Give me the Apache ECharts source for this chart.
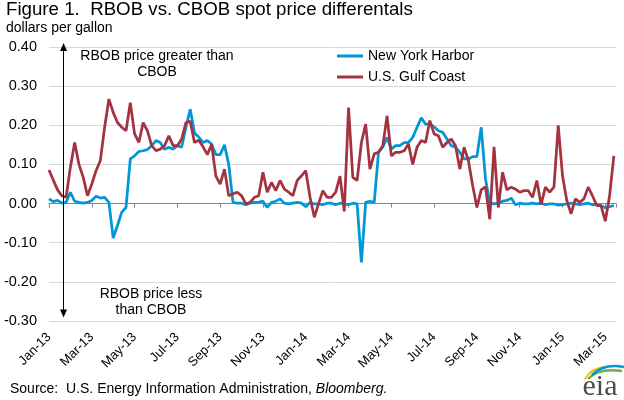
<!DOCTYPE html>
<html>
<head>
<meta charset="utf-8">
<script src="https://cdn.jsdelivr.net/npm/echarts@6/dist/echarts.min.js"></script>
<style>
    html, body { margin: 0; padding: 0; background: #fff; }
    #chart { width: 624px; height: 400px; }
</style>
</head>
<body>
<div id="chart"></div>
<script>
    // x positions: months since Jan 1 2013, one reading every 0.2 month
    var monthPos = [];
    for (var i = 0; i <= 132; i++) {
        monthPos.push(Math.round(i * 2) / 10);
    }

    // tick labels, every 2 months
    var monthLabels = ['Jan-13', 'Mar-13', 'May-13', 'Jul-13', 'Sep-13', 'Nov-13', 'Jan-14',
        'Mar-14', 'May-14', 'Jul-14', 'Sep-14', 'Nov-14', 'Jan-15', 'Mar-15'];

    // RBOB minus CBOB, dollars per gallon
    var nyHarbor = [
        0.012, 0.005, 0.008, 0.001, 0.003, 0.029, 0.006, 0.003, 0.001, 0.003,
        0.008, 0.019, 0.014, 0.016, 0.003, -0.088, -0.056, -0.022, -0.01, 0.114,
        0.122, 0.133, 0.135, 0.138, 0.148, 0.161, 0.156, 0.139, 0.144, 0.139,
        0.148, 0.144, 0.195, 0.241, 0.18, 0.17, 0.156, 0.161, 0.152, 0.125,
        0.125, 0.15, 0.10, 0.003, 0.001, 0.001, -0.003, 0.001, 0.003, 0.004,
        0.006, -0.01, 0.003, 0.006, 0.012, 0.001, -0.001, 0.001, 0.003, 0.001,
        -0.008, 0.003, -0.001, -0.001, -0.003, 0.001, 0.001, -0.003, 0.001, -0.001,
        -0.003, 0.001, -0.001, -0.15, 0.003, 0.006, 0.003, 0.131, 0.144, 0.169,
        0.139, 0.148, 0.148, 0.156, 0.156, 0.169, 0.195, 0.219, 0.203, 0.203,
        0.196, 0.186, 0.182, 0.165, 0.148, 0.144, 0.131, 0.114, 0.114, 0.12,
        0.12, 0.195, 0.063, 0.003, -0.001, 0.001, 0.006, 0.008, 0.014, -0.003,
        0.001, -0.001, -0.001, 0.001, -0.001, 0.001, -0.003, -0.001, -0.001, -0.004,
        -0.003, -0.001, 0.001, -0.001, -0.003, -0.001, 0.001, -0.003, -0.003, -0.005,
        -0.011, -0.008, -0.005
    ];

    var gulfCoast = [
        0.086, 0.06, 0.035, 0.02, 0.016, 0.093, 0.156, 0.10, 0.067, 0.02,
        0.05, 0.084, 0.11, 0.195, 0.267, 0.233, 0.207, 0.195, 0.186, 0.258,
        0.178, 0.156, 0.207, 0.186, 0.148, 0.135, 0.139, 0.148, 0.173, 0.148,
        0.148, 0.165, 0.207, 0.21, 0.156, 0.162, 0.145, 0.125, 0.151, 0.07,
        0.05, 0.088, 0.02, 0.025, 0.029, 0.02, -0.001, 0.003, 0.016, 0.02,
        0.08, 0.029, 0.054, 0.033, 0.059, 0.037, 0.029, 0.02, 0.059, 0.071,
        0.084, 0.016, -0.035, 0.0, 0.033, 0.016, 0.016, 0.029, 0.07, -0.02,
        0.245, 0.067, 0.059, 0.156, 0.203, 0.088, 0.127, 0.131, 0.148, 0.224,
        0.122, 0.131, 0.131, 0.135, 0.152, 0.10, 0.144, 0.161, 0.156, 0.212,
        0.178, 0.173, 0.144, 0.156, 0.165, 0.148, 0.088, 0.144, 0.11, 0.046,
        -0.01, 0.035, 0.043, -0.04, 0.145, -0.01, 0.08, 0.035, 0.042, 0.037,
        0.029, 0.033, 0.033, 0.016, 0.059, -0.003, 0.042, 0.029, 0.042, 0.2,
        0.071, 0.008, -0.026, 0.012, 0.003, 0.012, 0.042, 0.02, -0.005, -0.005,
        -0.045, 0.02, 0.122
    ];

    function pairs(values) {
        var out = [];
        for (var i = 0; i < values.length; i++) {
            out.push([monthPos[i], values[i]]);
        }
        return out;
    }

    var fontFamily = '"Liberation Sans", Arial, sans-serif';

    var chart = echarts.init(document.getElementById('chart'), null, { renderer: 'canvas' });

    var option = {
        animation: false,
        backgroundColor: '#fff',
        textStyle: { fontFamily: fontFamily },
        grid: {
            left: 49,
            right: 8,
            top: 47,
            bottom: 79,
            containLabel: false,
            outerBoundsMode: 'none'
        },
        legend: {
            orient: 'vertical',
            left: 337,
            top: 49,
            padding: 0,
            itemWidth: 26,
            itemHeight: 3,
            itemGap: 7,
            icon: 'rect',
            textStyle: { fontSize: 14, color: '#000', fontFamily: fontFamily },
            data: ['New York Harbor', 'U.S. Gulf Coast']
        },
        xAxis: [
            {
                // month labels along the bottom
                type: 'value',
                min: 0,
                max: 26.5,
                interval: 2,
                position: 'bottom',
                axisLine: { show: false, onZero: false },
                axisTick: { show: false },
                splitLine: { show: false },
                axisLabel: {
                    rotate: 45,
                    margin: 14,
                    fontSize: 13,
                    color: '#000',
                    fontFamily: fontFamily,
                    formatter: function (v) {
                        var k = Math.round(v / 2);
                        if (Math.abs(v - k * 2) > 1e-6) { return ''; }
                        return monthLabels[k] || '';
                    }
                }
            },
            {
                // zero line with the tick marks
                type: 'value',
                min: 0,
                max: 26.5,
                interval: 2,
                position: 'bottom',
                axisLine: { show: true, onZero: true, lineStyle: { color: '#868686', width: 1 } },
                axisTick: { show: true, inside: false, length: 4, lineStyle: { color: '#868686' } },
                splitLine: { show: false },
                axisLabel: { show: false }
            }
        ],
        yAxis: {
            type: 'value',
            min: -0.3,
            max: 0.4,
            interval: 0.1,
            axisLine: { show: false },
            axisTick: { show: false },
            splitLine: { lineStyle: { color: '#d9d9d9', width: 1 } },
            axisLabel: {
                margin: 12,
                fontSize: 14.5,
                color: '#000',
                fontFamily: fontFamily,
                formatter: function (v) { return v.toFixed(2); }
            }
        },
        series: [
            {
                name: 'New York Harbor',
                type: 'line',
                data: pairs(nyHarbor),
                symbol: 'none',
                color: '#0096d7',
                lineStyle: { width: 2.75, color: '#0096d7' }
            },
            {
                name: 'U.S. Gulf Coast',
                type: 'line',
                data: pairs(gulfCoast),
                symbol: 'none',
                color: '#a33340',
                lineStyle: { width: 2.75, color: '#a33340' },
                markLine: {
                    silent: true,
                    symbol: ['triangle', 'triangle'],
                    symbolSize: [7, 8],
                    label: { show: false },
                    lineStyle: { color: '#000', width: 1, type: 'solid' },
                    data: [
                        [{ coord: [0.68, -0.281] }, { coord: [0.68, 0.4] }]
                    ]
                }
            }
        ],
        graphic: [
            {
                type: 'text', x: 6, y: 10,
                style: { text: 'Figure 1.  RBOB vs. CBOB spot price differentals', font: '18.7px ' + fontFamily, fill: '#000', verticalAlign: 'middle' }
            },
            {
                type: 'text', x: 6, y: 28,
                style: { text: 'dollars per gallon', font: '14px ' + fontFamily, fill: '#000', verticalAlign: 'middle' }
            },
            {
                type: 'text', x: 157, y: 64,
                style: { text: 'RBOB price greater than\nCBOB', font: '14px ' + fontFamily, lineHeight: 16, fill: '#000', align: 'center', verticalAlign: 'middle' }
            },
            {
                type: 'text', x: 151, y: 302,
                style: { text: 'RBOB price less\nthan CBOB', font: '14px ' + fontFamily, lineHeight: 16, fill: '#000', align: 'center', verticalAlign: 'middle' }
            },
            {
                type: 'text', x: 10, y: 389,
                style: {
                    text: '{n|Source:  U.S. Energy Information Administration, }{i|Bloomberg.}',
                    verticalAlign: 'middle',
                    rich: {
                        n: { font: '14px ' + fontFamily, fill: '#000' },
                        i: { font: 'italic 14px ' + fontFamily, fill: '#000' }
                    }
                }
            },
            // eia logo
            {
                type: 'bezierCurve',
                shape: { x1: 585, y1: 379, cpx1: 591, cpy1: 368, x2: 605, y2: 367 },
                style: { stroke: '#f2c200', lineWidth: 2, fill: null }
            },
            {
                type: 'bezierCurve',
                shape: { x1: 588, y1: 379, cpx1: 598, cpy1: 368, x2: 622, y2: 371 },
                style: { stroke: '#6cb33f', lineWidth: 2.5, fill: null }
            },
            {
                type: 'bezierCurve',
                shape: { x1: 592, y1: 375, cpx1: 604, cpy1: 363, x2: 624, y2: 367 },
                style: { stroke: '#0096d7', lineWidth: 2.5, fill: null }
            },
            {
                type: 'text', x: 600, y: 387,
                style: { text: 'eia', font: '30px "Liberation Serif", "Times New Roman", serif', fill: '#4d4d4d', align: 'center', verticalAlign: 'middle' }
            }
        ]
    };

    chart.setOption(option, true);
</script>
</body>
</html>
